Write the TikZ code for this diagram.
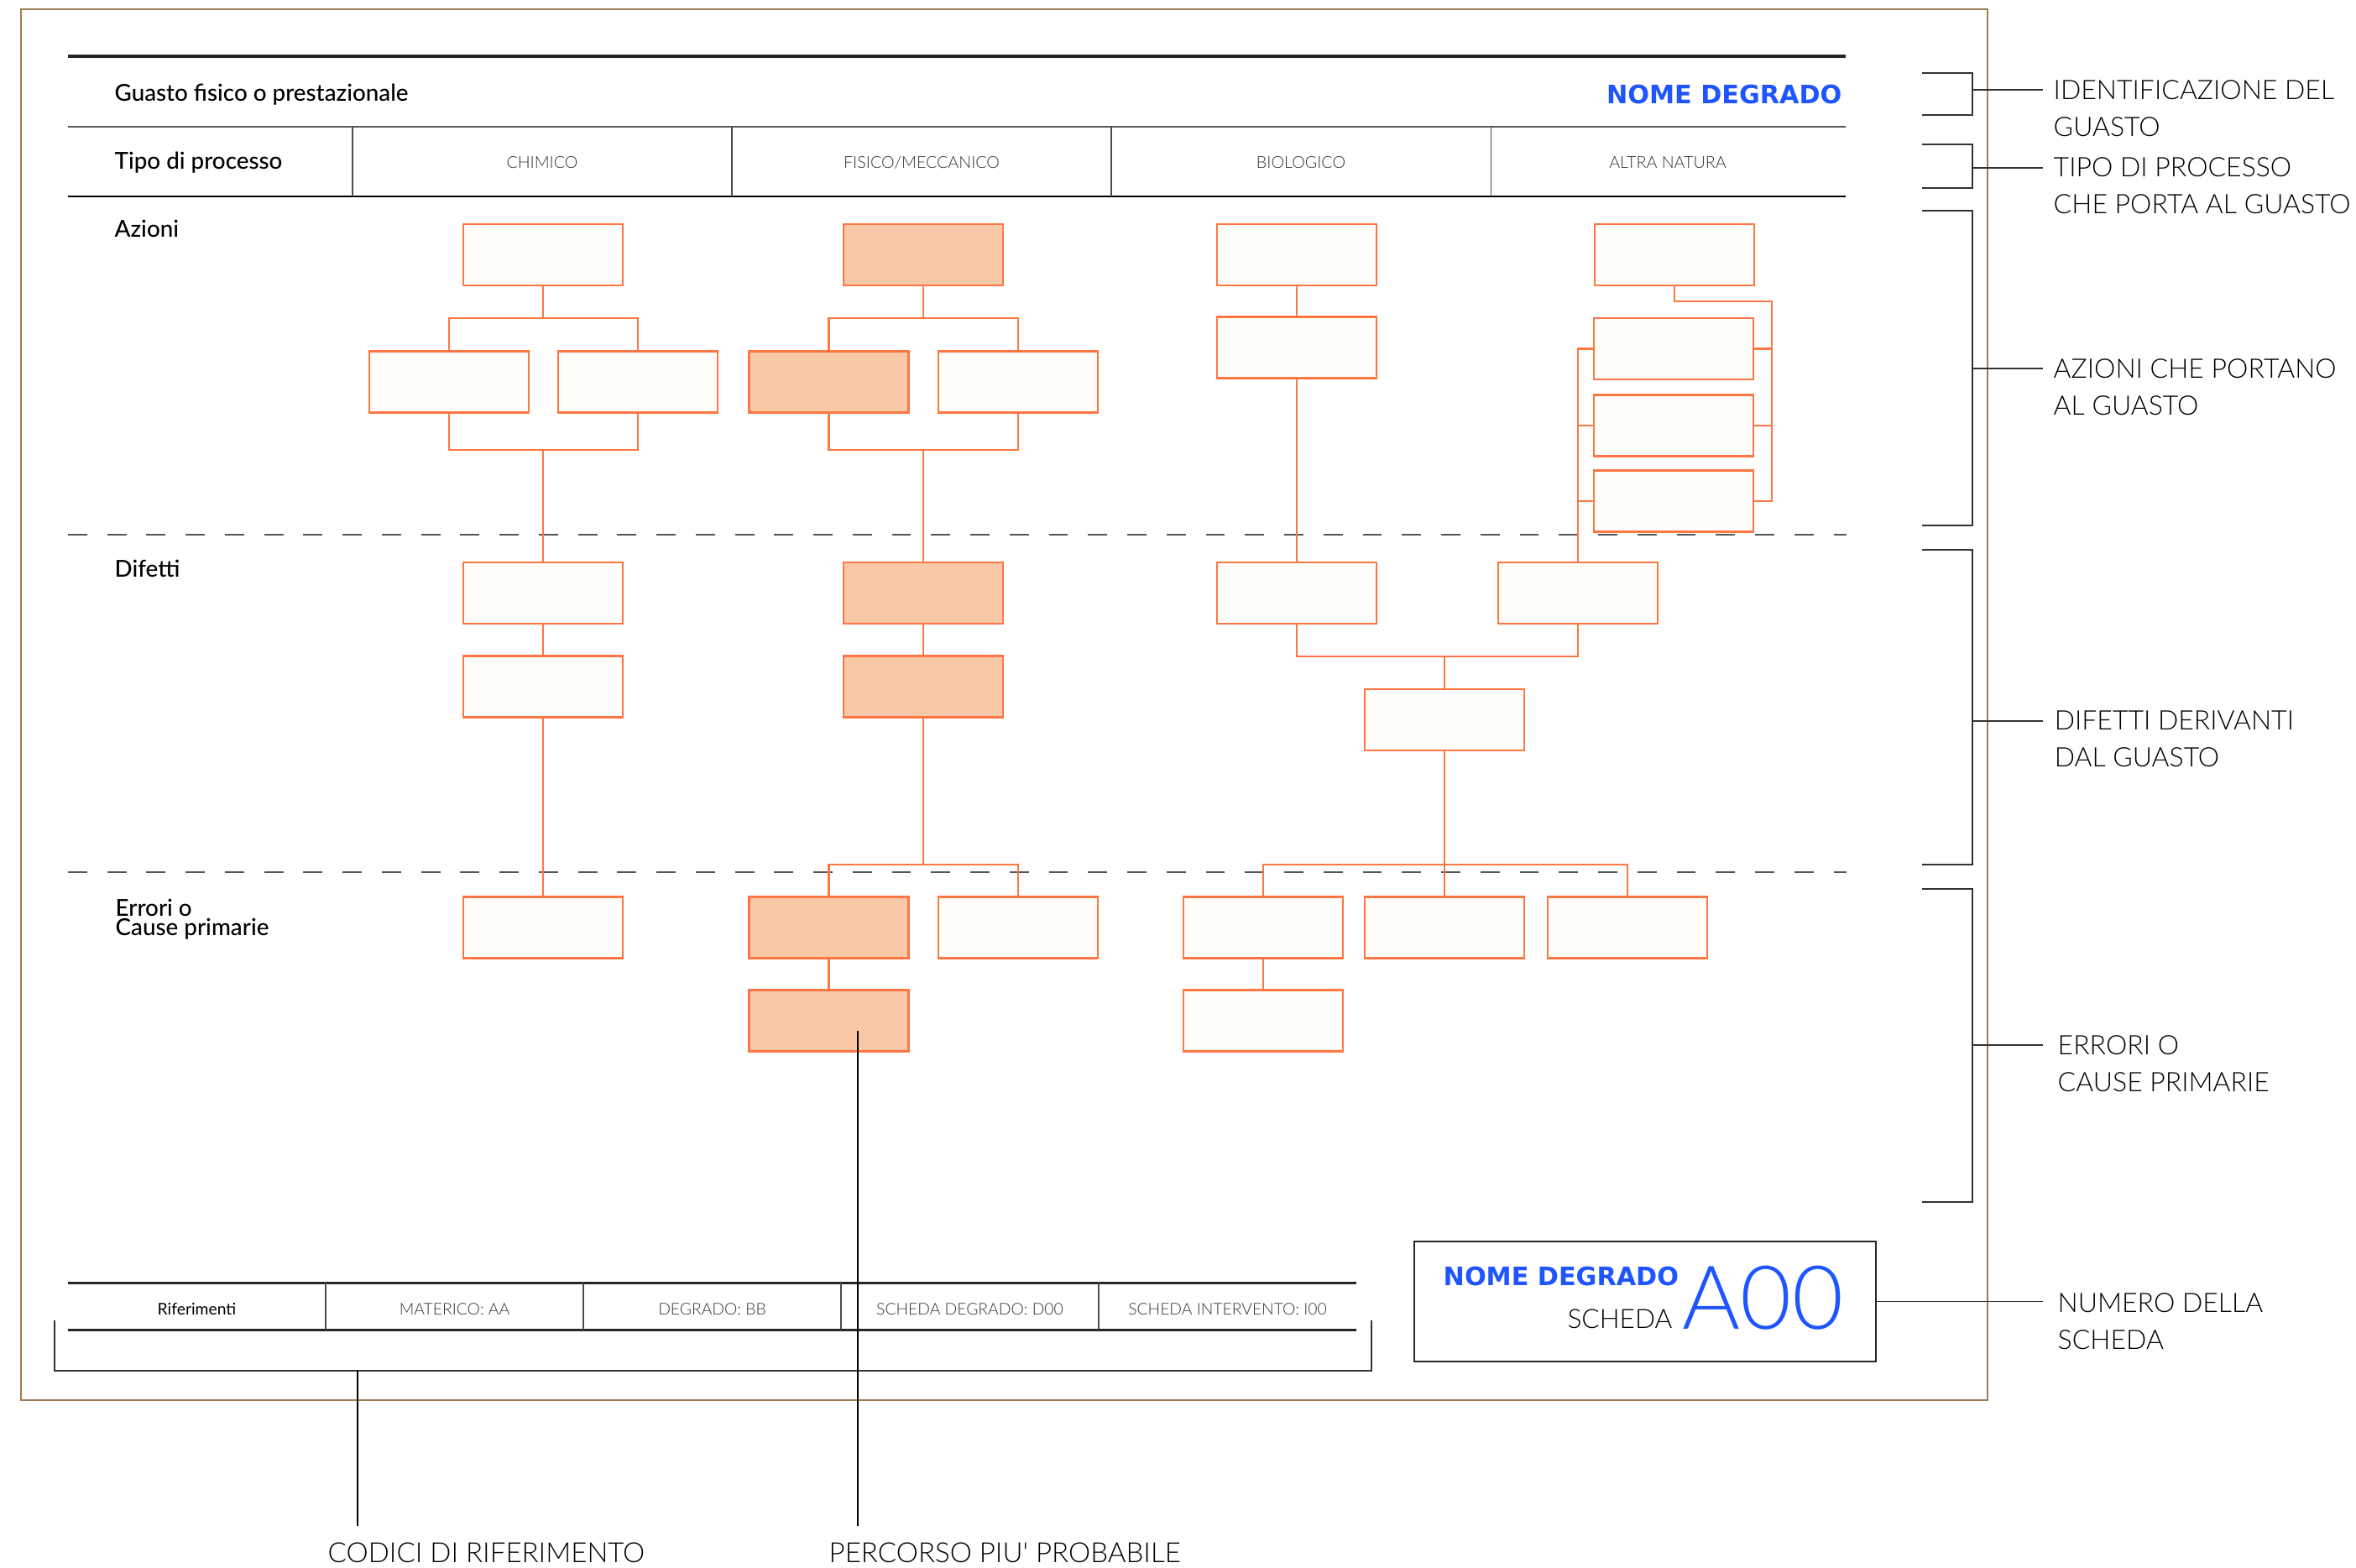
\documentclass[tikz,border=0pt]{standalone}
\usepackage{fontspec}
\setmainfont{Lato}
\IfFontExistsTF{Lato Light}{\newfontfamily\thinfont{Lato Light}}{\newfontfamily\thinfont{Lato}}
\IfFontExistsTF{Lato Medium}{\newfontfamily\medfont{Lato Medium}}{\newfontfamily\medfont{Lato}}
\newfontfamily\namefont{DejaVu Sans}

\definecolor{cornice}{RGB}{160,122,84}
\definecolor{arancio}{RGB}{255,118,66}
\definecolor{pesca}{RGB}{249,200,166}
\definecolor{avorio}{RGB}{255,254,250}
\definecolor{blu}{RGB}{30,85,255}
\definecolor{grigio}{RGB}{85,85,85}

\tikzset{
  box/.style={draw=arancio, fill=avorio, line width=0.6pt, minimum width=1.9cm, minimum height=0.73cm, inner sep=0pt},
  hot/.style={box, fill=pesca},
  ramo/.style={draw=arancio, line width=0.6pt},
  voce/.style={inner sep=0pt, align=left, font=\medfont\fontsize{7.9}{6.6}\selectfont},
  tipo/.style={inner sep=0pt, anchor=base, text=black!80, font=\thinfont\fontsize{5.6}{7}\selectfont},
  nota/.style={inner sep=0pt, anchor=north west, align=left, font=\thinfont\fontsize{9.1}{12.5}\selectfont},
  rif/.style={inner sep=0pt, anchor=base, text=black!80, font=\thinfont\fontsize{5.5}{6}\selectfont},
  nome/.style={inner sep=0pt, text=blu, font=\namefont\bfseries\fontsize{8.6}{9}\selectfont},
  graffa/.style={draw=black!80, line width=0.45pt},
  filo/.style={draw=black, line width=0.3pt},
}

\begin{document}
\begin{tikzpicture}[x=1cm,y=-1cm]
\useasboundingbox (0,0) rectangle (28.07,18.67);

% cornice della scheda
\draw[cornice, line width=0.45pt] (0.25,0.11) rectangle (23.68,16.68);

% intestazione
\draw[black!85, line width=1pt] (0.81,0.67) -- (21.99,0.67);
\draw[black!65, line width=0.3pt] (0.81,1.51) -- (21.99,1.51);
\draw[black, line width=0.35pt] (0.81,2.34) -- (21.99,2.34);
\draw[black!70, line width=0.3pt] (4.20,1.51) -- (4.20,2.34);
\draw[black!70, line width=0.3pt] (8.72,1.51) -- (8.72,2.34);
\draw[black!70, line width=0.3pt] (13.24,1.51) -- (13.24,2.34);
\draw[black!70, line width=0.3pt] (17.76,1.51) -- (17.76,2.34);

\node[voce, anchor=base west] (guasto) at (1.36,1.20) {Guasto fisico o prestazionale};
\node[voce, anchor=base west] (processo) at (1.36,2.01) {Tipo di processo};
\node[nome, anchor=base east] (nome1) at (21.95,1.23) {NOME DEGRADO};

\node[tipo] (chimico) at (6.46,2.00) {CHIMICO};
\node[tipo] (fisico) at (10.98,2.00) {FISICO/MECCANICO};
\node[tipo] (biologico) at (15.50,2.00) {BIOLOGICO};
\node[tipo] (altra) at (19.87,2.00) {ALTRA NATURA};

\node[voce, anchor=base west] (azioni) at (1.36,2.82) {Azioni};
\node[voce, anchor=base west] (difetti) at (1.36,6.87) {Difetti};
\node[voce, anchor=north west] (errori) at (1.37,10.70) {Errori o\\Cause primarie};

% separatori tra le fasce
\draw[grigio, line width=0.45pt, dash pattern=on 6.5pt off 6.8pt] (0.81,6.37) -- (22.00,6.37);
\draw[grigio, line width=0.45pt, dash pattern=on 6.5pt off 6.8pt] (0.81,10.39) -- (22.00,10.39);

% processo chimico
\node[box] (c1) at (6.47,3.035) {};
\node[box] (c2a) at (5.35,4.55) {};
\node[box] (c2b) at (7.60,4.55) {};
\node[box] (c3) at (6.47,7.065) {};
\node[box] (c4) at (6.47,8.18) {};
\node[box] (c5) at (6.47,11.05) {};
\coordinate (c1s) at (6.47,3.79);
\coordinate (c2m) at (6.47,5.36);
\draw[ramo] (c1) -- (c1s);
\draw[ramo] (c2a) |- (c1s) -| (c2b);
\draw[ramo] (c2a) |- (c2m) -| (c2b);
\draw[ramo] (c2m) -- (c3) -- (c4) -- (c5);

% processo fisico/meccanico (percorso evidenziato)
\node[hot] (f1) at (11.00,3.035) {};
\node[hot] (f2a) at (9.875,4.55) {};
\node[box] (f2b) at (12.13,4.55) {};
\node[hot] (f3) at (11.00,7.065) {};
\node[hot] (f4) at (11.00,8.18) {};
\node[hot] (f5a) at (9.875,11.05) {};
\node[box] (f5b) at (12.13,11.05) {};
\node[hot] (f6) at (9.875,12.16) {};
\coordinate (f1s) at (11.00,3.79);
\coordinate (f2m) at (11.00,5.36);
\coordinate (f5s) at (11.00,10.30);
\draw[ramo] (f1) -- (f1s);
\draw[ramo] (f2a) |- (f1s) -| (f2b);
\draw[ramo] (f2a) |- (f2m) -| (f2b);
\draw[ramo] (f2m) -- (f3) -- (f4) -- (f5s);
\draw[ramo] (f5a) |- (f5s) -| (f5b);
\draw[ramo] (f5a) -- (f6);

% processo biologico
\node[box] (b1) at (15.45,3.035) {};
\node[box] (b2) at (15.45,4.14) {};
\node[box] (b3) at (15.45,7.065) {};
\node[box] (b4) at (18.80,7.065) {};
\node[box] (b5) at (17.21,8.575) {};
\node[box] (b6a) at (15.05,11.05) {};
\node[box] (b6b) at (17.21,11.05) {};
\node[box] (b6c) at (19.39,11.05) {};
\node[box] (b7) at (15.05,12.16) {};
\coordinate (b3s) at (17.21,7.82);
\coordinate (b5s) at (17.21,10.30);
\draw[ramo] (b1) -- (b2) -- (b3);
\draw[ramo] (b3) |- (b3s) -| (b4);
\draw[ramo] (b3s) -- (b5) -- (b5s);
\draw[ramo] (b6a) |- (b5s) -| (b6c);
\draw[ramo] (b5s) -- (b6b);
\draw[ramo] (b6a) -- (b7);

% altra natura
\node[box] (a1) at (19.95,3.035) {};
\node[box] (a2) at (19.94,4.155) {};
\node[box] (a3) at (19.94,5.07) {};
\node[box] (a4) at (19.94,5.97) {};
\coordinate (a1s) at (21.11,3.59);
\draw[ramo] (a1) |- (a1s) |- (a4);
\draw[ramo] (a2) -- (a2 -| a1s);
\draw[ramo] (a3) -- (a3 -| a1s);
\draw[ramo] (a2) -| (b4);
\draw[ramo] (a3) -- (a3 -| b4);
\draw[ramo] (a4) -- (a4 -| b4);

% riquadro del numero di scheda
\node[draw=black!85, line width=0.45pt, minimum width=5.5cm, minimum height=1.43cm, inner sep=0pt] (scheda) at (19.60,15.505) {};
\node[nome, anchor=base west] (nome2) at (17.19,15.31) {NOME DEGRADO};
\node[inner sep=0pt, anchor=base east, font=\thinfont\fontsize{9}{9}\selectfont] (schedatxt) at (19.93,15.82) {SCHEDA};
\node[inner sep=0pt, anchor=base west, text=blu, font=\thinfont\fontsize{30}{30}\selectfont] (numero) at (20.04,15.83) {A00};

% riferimenti
\draw[black!85, line width=0.85pt] (0.81,15.28) -- (16.16,15.28);
\draw[black!85, line width=0.85pt] (0.81,15.84) -- (16.16,15.84);
\draw[black!70, line width=0.3pt] (3.88,15.28) -- (3.88,15.84);
\draw[black!70, line width=0.3pt] (6.95,15.28) -- (6.95,15.84);
\draw[black!70, line width=0.3pt] (10.02,15.28) -- (10.02,15.84);
\draw[black!70, line width=0.3pt] (13.09,15.28) -- (13.09,15.84);
\node[rif, text=black, font=\fontsize{5.5}{6}\selectfont] (riferimenti) at (2.345,15.66) {Riferimenti};
\node[rif] (materico) at (5.415,15.66) {MATERICO: AA};
\node[rif] (degrado) at (8.485,15.66) {DEGRADO: BB};
\node[rif] (schedadeg) at (11.555,15.66) {SCHEDA DEGRADO: D00};
\node[rif] (schedaint) at (14.625,15.66) {SCHEDA INTERVENTO: I00};

% legenda a destra
\draw[graffa] (22.90,0.87) -| (23.50,1.37) -- (22.90,1.37);
\draw[graffa] (22.90,1.72) -| (23.50,2.24) -- (22.90,2.24);
\draw[graffa] (22.90,2.51) -| (23.50,6.26) -- (22.90,6.26);
\draw[graffa] (22.90,6.55) -| (23.50,10.30) -- (22.90,10.30);
\draw[graffa] (22.90,10.59) -| (23.50,14.32) -- (22.90,14.32);
\coordinate (g1) at (24.34,1.07);
\coordinate (g2) at (24.34,2.00);
\coordinate (g3) at (24.34,4.39);
\coordinate (g4) at (24.34,8.59);
\coordinate (g5) at (24.34,12.45);
\coordinate (g6) at (24.34,15.505);
\draw[graffa] (23.50,1.07) -- (g1);
\draw[graffa] (23.50,2.00) -- (g2);
\draw[graffa] (23.50,4.39) -- (g3);
\draw[graffa] (23.50,8.59) -- (g4);
\draw[graffa] (23.50,12.45) -- (g5);
\draw[graffa] (scheda.east) -- (g6);

\node[nota] (n1) at (24.46,0.95) {IDENTIFICAZIONE DEL\\GUASTO};
\node[nota] (n2) at (24.46,1.87) {TIPO DI PROCESSO\\CHE PORTA AL GUASTO};
\node[nota] (n3) at (24.46,4.27) {AZIONI CHE PORTANO\\AL GUASTO};
\node[nota] (n4) at (24.47,8.46) {DIFETTI DERIVANTI\\DAL GUASTO};
\node[nota] (n5) at (24.51,12.33) {ERRORI O\\CAUSE PRIMARIE};
\node[nota] (n6) at (24.51,15.40) {NUMERO DELLA\\SCHEDA};

% legenda in basso
\draw[graffa] (0.65,15.73) |- (16.34,16.33) -- (16.34,15.73);
\coordinate (cod1) at (4.26,16.33);
\coordinate (cod2) at (4.26,18.18);
\coordinate (per1) at (10.22,12.28);
\coordinate (per2) at (10.22,18.18);
\draw[filo] (cod1) -- (cod2);
\draw[filo] (per1) -- (per2);
\node[nota, font=\thinfont\fontsize{9.4}{12.5}\selectfont] (codici) at (3.90,18.37) {CODICI DI RIFERIMENTO};
\node[nota, font=\thinfont\fontsize{9.4}{12.5}\selectfont] (percorso) at (9.87,18.37) {PERCORSO PIU\textquotesingle{} PROBABILE};
\end{tikzpicture}
\end{document}
